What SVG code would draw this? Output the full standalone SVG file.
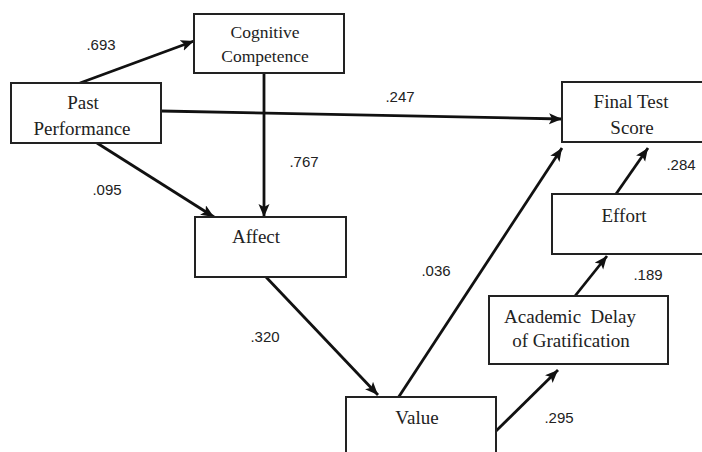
<svg xmlns="http://www.w3.org/2000/svg" width="702" height="452" viewBox="0 0 702 452">
<defs>
<marker id="ah" markerUnits="userSpaceOnUse" markerWidth="14" markerHeight="12" refX="13" refY="5.5" orient="auto">
<path d="M0,0 L13,5.5 L0,11 L3,5.5 z" fill="#111"/>
</marker>
<style>
.box{fill:#fff;stroke:#222;stroke-width:2}
.lbl{font-family:"Liberation Serif","Times New Roman",serif;font-size:19px;fill:#222;text-anchor:middle}
.num{font-family:"Liberation Sans",Arial,sans-serif;font-size:15px;fill:#222;text-anchor:middle}
.edge{stroke:#111;stroke-width:2.8;fill:none;marker-end:url(#ah)}
</style>
</defs>
<rect width="702" height="452" fill="#fff"/>
<g id="connectors">
<line class="edge" x1="80" y1="83" x2="194" y2="41"/>
<line class="edge" x1="161" y1="111" x2="562" y2="119"/>
<line class="edge" x1="97" y1="143" x2="214" y2="217"/>
<line class="edge" x1="264" y1="73" x2="264" y2="217"/>
<line class="edge" x1="266" y1="277" x2="378" y2="395"/>
<line class="edge" x1="398" y1="398" x2="562" y2="148"/>
<line class="edge" x1="495" y1="432" x2="558" y2="370"/>
<line class="edge" x1="575" y1="296" x2="607" y2="256"/>
<line class="edge" x1="616" y1="194" x2="648" y2="148"/>
</g>
<g id="cognitive">
<rect class="box" x="194" y="14" width="150" height="59"/>
<text class="lbl" x="265" y="38" style="font-size:17.5px">Cognitive</text>
<text class="lbl" x="265" y="62" style="font-size:17.5px">Competence</text>
</g>
<g id="past">
<rect class="box" x="11" y="83" width="150" height="60"/>
<text class="lbl" x="83" y="109">Past</text>
<text class="lbl" x="82" y="135">Performance</text>
</g>
<g id="affect">
<rect class="box" x="195" y="217" width="151" height="60"/>
<text class="lbl" x="256" y="243">Affect</text>
</g>
<g id="value">
<rect class="box" x="346" y="397" width="150" height="70"/>
<text class="lbl" x="417" y="424">Value</text>
</g>
<g id="adg">
<rect class="box" x="489" y="296" width="179" height="68"/>
<text class="lbl" x="570" y="323" xml:space="preserve">Academic  Delay</text>
<text class="lbl" x="571" y="347">of Gratification</text>
</g>
<g id="effort">
<rect class="box" x="552" y="194" width="156" height="60"/>
<text class="lbl" x="624" y="222">Effort</text>
</g>
<g id="final">
<rect class="box" x="562" y="82" width="146" height="60"/>
<text class="lbl" x="631" y="108">Final Test</text>
<text class="lbl" x="632" y="134">Score</text>
</g>
<g id="labels">
<text class="num" x="101" y="50">.693</text>
<text class="num" x="400" y="102">.247</text>
<text class="num" x="304" y="167">.767</text>
<text class="num" x="107" y="195">.095</text>
<text class="num" x="681" y="170">.284</text>
<text class="num" x="648" y="280">.189</text>
<text class="num" x="436" y="276">.036</text>
<text class="num" x="265" y="342">.320</text>
<text class="num" x="559" y="423">.295</text>
</g>
</svg>
